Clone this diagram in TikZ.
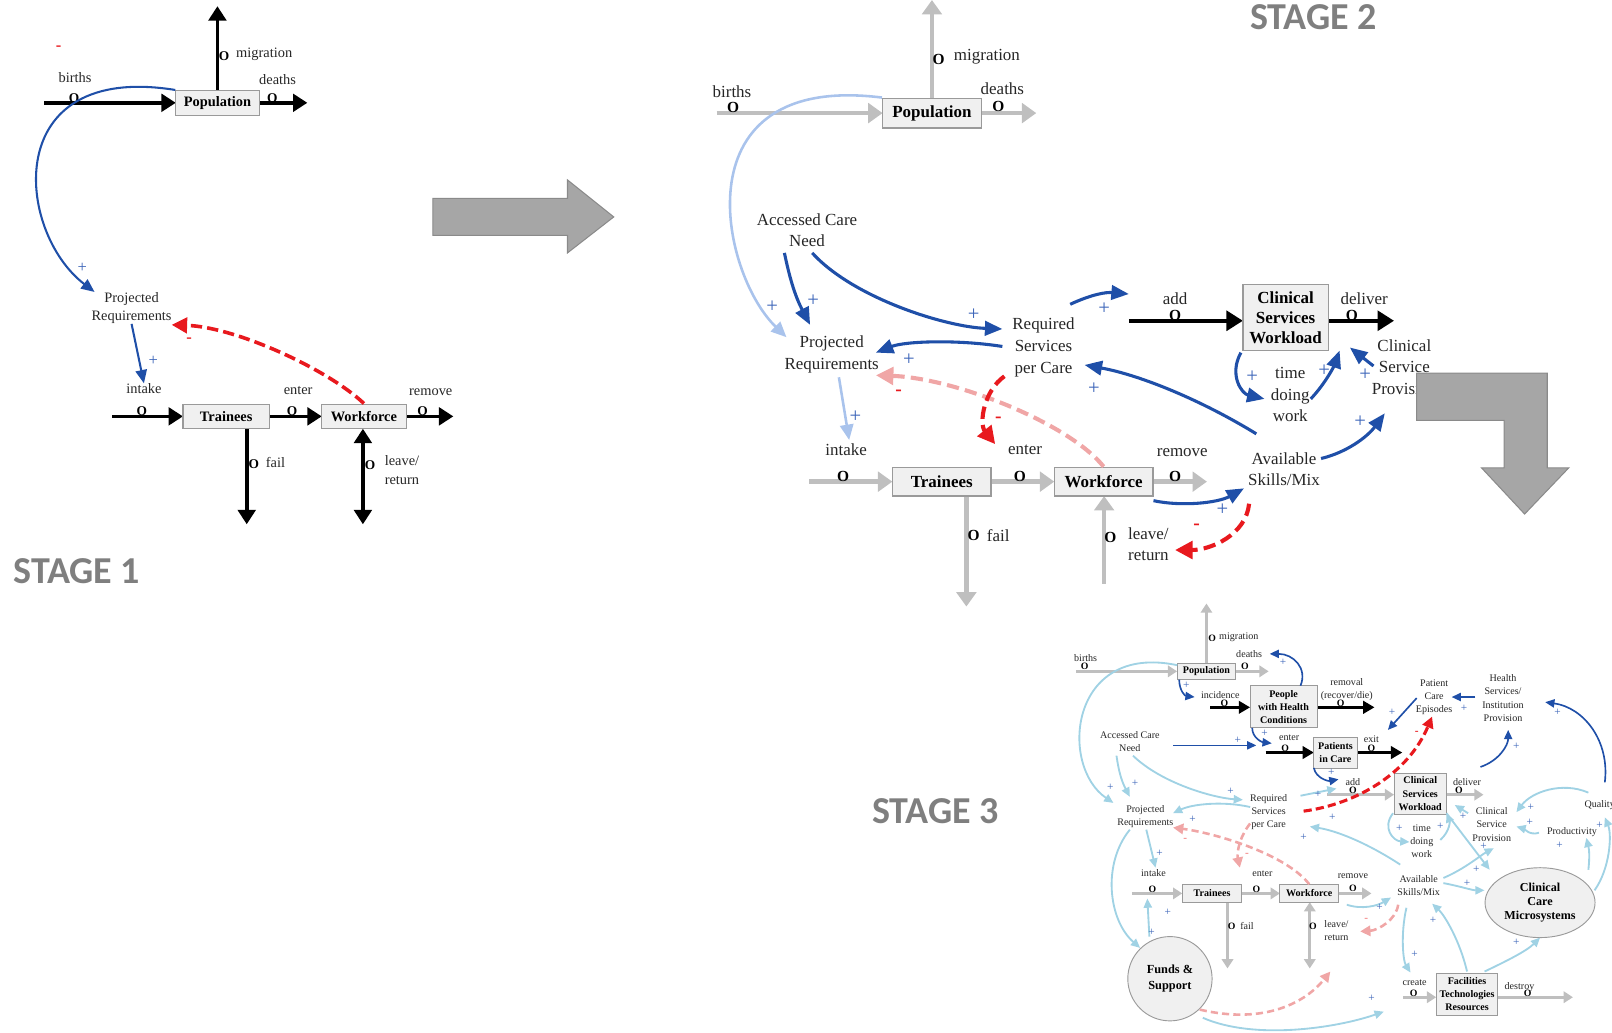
\documentclass[tikz,border=0pt]{standalone}
\usepackage{fontspec}
\setmainfont{Liberation Serif}
\newfontfamily\stagefont{Carlito}
\usetikzlibrary{arrows.meta,shapes.geometric}

\definecolor{flowgray}{HTML}{BFBFBF}
\definecolor{boxfill}{HTML}{F0F0F0}
\definecolor{boxline}{HTML}{9A9A9A}
\definecolor{infblue}{HTML}{1F4FA8}
\definecolor{paleblue}{HTML}{A9C3EC}
\definecolor{cyanblue}{HTML}{A0D2E4}
\definecolor{negred}{HTML}{E8191E}
\definecolor{pinkneg}{HTML}{F0A6A6}
\definecolor{plusblue}{HTML}{3A63B8}
\definecolor{stagegray}{HTML}{7F7F7F}
\definecolor{bigarrow}{HTML}{A6A6A6}
\definecolor{bigarrowline}{HTML}{8A8A8A}

\newcommand\fsA{\fontsize{14}{18}\selectfont}
\newcommand\fsB{\fontsize{16.5}{21}\selectfont}
\newcommand\fsC{\fontsize{9.8}{12.8}\selectfont}

\tikzset{
  lblA/.style={font=\fsA, inner sep=0pt, align=center, text=black!85},
  lblB/.style={font=\fsB, inner sep=0pt, align=center, text=black!85},
  lblC/.style={font=\fsC, inner sep=0pt, align=center, text=black!85},
  valveA/.style={font=\fontsize{13}{13}\selectfont\bfseries, inner sep=0pt},
  valveB/.style={font=\fontsize{15}{15}\selectfont\bfseries, inner sep=0pt},
  valveC/.style={font=\fontsize{9.5}{9.5}\selectfont\bfseries, inner sep=0pt},
  stockA/.style={draw=boxline, fill=boxfill, line width=1pt, font=\fsA\bfseries, inner sep=0pt},
  stockB/.style={draw=boxline, fill=boxfill, line width=1.2pt, font=\fsB\bfseries, inner sep=0pt, align=center},
  stockC/.style={draw=boxline, fill=boxfill, line width=0.9pt, font=\fsC\bfseries, inner sep=0pt, align=center},
  flowA/.style={line width=3.5pt, -{Triangle[length=14pt,width=17pt]}},
  flowAA/.style={line width=3.5pt, {Triangle[length=14pt,width=17pt]}-{Triangle[length=14pt,width=17pt]}},
  flowB/.style={flowgray, line width=4.5pt, -{Triangle[length=14pt,width=19pt]}},
  flowBk/.style={black, line width=4pt, -{Triangle[length=16pt,width=19pt]}},
  flowC/.style={flowgray, line width=2.5pt, -{Triangle[length=9pt,width=11pt]}},
  flowCC/.style={flowgray, line width=2.5pt, {Triangle[length=9pt,width=11pt]}-{Triangle[length=9pt,width=11pt]}},
  flowCk/.style={black, line width=2.8pt, -{Triangle[length=11pt,width=12pt]}},
  linkA/.style={infblue, line width=2pt, -{Triangle[length=13pt,width=11pt]}},
  linkB/.style={infblue, line width=3pt, -{Triangle[length=17pt,width=14pt]}},
  linkBpale/.style={paleblue, line width=2.5pt, -{Triangle[length=15pt,width=13pt]}},
  linkC/.style={infblue, line width=1.6pt, -{Triangle[length=9pt,width=8pt]}},
  linkCpale/.style={cyanblue, line width=1.8pt, -{Triangle[length=9pt,width=8pt]}},
  negA/.style={negred, line width=3.5pt, dash pattern=on 11pt off 5pt, -{Triangle[length=15pt,width=15pt]}},
  negB/.style={negred, line width=4pt, dash pattern=on 12pt off 6pt, -{Triangle[length=17pt,width=17pt]}},
  negBpale/.style={pinkneg, line width=4pt, dash pattern=on 12pt off 6pt, -{Triangle[length=17pt,width=17pt]}},
  negC/.style={negred, line width=3pt, dash pattern=on 8pt off 4pt, -{Triangle[length=11pt,width=11pt]}},
  negCpale/.style={pinkneg, line width=2.5pt, dash pattern=on 7pt off 4pt, -{Triangle[length=10pt,width=10pt]}},
  plusA/.style={plusblue, font=\fontsize{16}{16}\selectfont, inner sep=0pt},
  plusB/.style={plusblue, font=\fontsize{20}{20}\selectfont, inner sep=0pt},
  plusC/.style={plusblue, font=\fontsize{11}{11}\selectfont, inner sep=0pt},
  minusA/.style={negred, font=\fontsize{16}{16}\selectfont\bfseries, inner sep=0pt},
  minusB/.style={negred, font=\fontsize{19}{19}\selectfont\bfseries, inner sep=0pt},
  minusC/.style={negred, font=\fontsize{11}{11}\selectfont\bfseries, inner sep=0pt},
  stagelabel/.style={font=\stagefont\fontsize{37}{38}\selectfont\bfseries, text=stagegray, inner sep=0pt, anchor=west},
  bigarrowshape/.style={fill=bigarrow, draw=bigarrowline, line width=1pt}
}

\begin{document}
\begin{tikzpicture}[x=1pt,y=-1pt]
\path[use as bounding box] (0,0) rectangle (1568,1004);

% ================= STAGE 1 =================
\coordinate (s1births) at (43,100);
\coordinate (s1deaths) at (299,100);
\coordinate (s1mig) at (211.5,6);
\coordinate (s1intake) at (109,405);
\coordinate (s1remove) at (441,405);
\coordinate (s1fail) at (240,510);
\coordinate (s1leave) at (353,510);

\draw[flowA] (s1births) -- (211.5-40.5,100);
\draw[flowA] (211.5+40.5,100) -- (s1deaths);
\draw[flowA] (211.5,88) -- (s1mig);
\draw[flowA] (s1intake) -- (178,405);
\draw[flowA] (262,405) -- (313,405);
\draw[flowA] (395,405) -- (s1remove);
\draw[flowA] (240,417) -- (s1fail);
\draw[flowAA] (s1leave) -- (353,417);

\node[stockA, minimum width=81pt, minimum height=24pt] (pop1) at (211.5,100) {Population};
\node[stockA, minimum width=84pt, minimum height=24pt] (tr1) at (220,405) {Trainees};
\node[stockA, minimum width=82pt, minimum height=24pt] (wf1) at (354,405) {Workforce};

\node[valveA] (o1a) at (72,95) {O};
\node[valveA] (o1b) at (265,95) {O};
\node[valveA] (o1c) at (218,55) {O};
\node[valveA] (o1d) at (138,400) {O};
\node[valveA] (o1e) at (284,400) {O};
\node[valveA] (o1f) at (411,400) {O};
\node[valveA] (o1g) at (247,451) {O};
\node[valveA] (o1h) at (360,452) {O};

\node[lblA] (l1births) at (73,75) {births};
\node[lblA] (l1deaths) at (270,77) {deaths};
\node[lblA] (l1mig) at (257,53) {migration};
\node[lblA] (pr1) at (128,299.5) {Projected\\Requirements};
\node[lblA] (in1) at (140,378) {intake};
\node[lblA] (l1enter) at (290,380) {enter};
\node[lblA] (l1remove) at (419,381) {remove};
\node[lblA] (l1fail) at (268,450) {fail};
\node[lblA] (l1leave) at (391,457) {leave/\\return};

\coordinate (t1loop) at (92,284);
\coordinate (t1neg) at (167,316);
\draw[linkA] (pop1.north west) .. controls (0,60) and (15,225) .. (t1loop);
\draw[linkA] (pr1.south) -- (in1.north);
\draw[negA] (wf1.north) .. controls (320,360) and (230,318) .. (t1neg);

\node[plusA] (p1a) at (80,261) {+};
\node[plusA] (p1b) at (149,351) {+};
\node[minusA] (m1a) at (184,331) {-};
\node[minusA] (m1b) at (57,47) {-};

\node[stagelabel] (st1) at (13,556) {STAGE 1};

% big arrow between stages
\draw[bigarrowshape] (421,193) -- (552,193) -- (552,175) -- (597,211) -- (552,246) -- (552,229) -- (421,229) -- cycle;

% ================= STAGE 2 =================
\node[stagelabel] (st2) at (1216,17) {STAGE 2};

\coordinate (s2births) at (697,110);
\coordinate (s2deaths) at (1008,110);
\coordinate (s2mig) at (906.5,0);
\coordinate (s2intake) at (787,468.5);
\coordinate (s2remove) at (1174,468.5);
\coordinate (s2fail) at (940,590);
\coordinate (s2leave) at (1074,568);
\coordinate (s2add) at (1098,312);
\coordinate (s2deliver) at (1356,312);

\draw[flowB] (s2births) -- (858.5,110);
\draw[flowB] (954.5,110) -- (s2deaths);
\draw[flowB] (906.5,95.5) -- (s2mig);
\draw[flowB] (s2intake) -- (868,468.5);
\draw[flowB] (964,468.5) -- (1025.5,468.5);
\draw[flowB] (1121.5,468.5) -- (s2remove);
\draw[flowB] (940,482.5) -- (s2fail);
\draw[flowB] (s2leave) -- (1074,482.5);
\draw[flowBk] (s2add) -- (1209,312);
\draw[flowBk] (1292,312) -- (s2deliver);

\node[stockB, minimum width=96pt, minimum height=29pt] (pop2) at (906.5,110) {Population};
\node[stockB, minimum width=96pt, minimum height=28pt] (tr2) at (916,468.5) {Trainees};
\node[stockB, minimum width=96pt, minimum height=28pt] (wf2) at (1073.5,468.5) {Workforce};
\node[stockB, minimum width=83pt, minimum height=64pt] (csw2) at (1250.5,309) {Clinical\\[-1.5pt]Services\\[-1.5pt]Workload};

\node[valveB] (o2a) at (713,105) {O};
\node[valveB] (o2b) at (971,104) {O};
\node[valveB] (o2c) at (913,58) {O};
\node[valveB] (o2d) at (820,463) {O};
\node[valveB] (o2e) at (992,463) {O};
\node[valveB] (o2f) at (1143,463) {O};
\node[valveB] (o2g) at (1143,307) {O};
\node[valveB] (o2h) at (1315,307) {O};
\node[valveB] (o2i) at (947,521) {O};
\node[valveB] (o2j) at (1080,523) {O};

\node[lblB] (l2births) at (712,89.5) {births};
\node[lblB] (l2deaths) at (975,86) {deaths};
\node[lblB] (l2mig) at (960,55) {migration};
\node[lblB] (acn2) at (785,224) {Accessed Care\\Need};
\node[lblB] (pr2) at (809,344.5) {Projected\\Requirements};
\node[lblB] (rs2) at (1015,338) {Required\\Services\\per Care};
\node[lblB] (l2add) at (1143,291) {add};
\node[lblB] (l2deliver) at (1327,291) {deliver};
\node[lblB] (tdw2) at (1255,384) {time\\doing\\work};
\node[lblB] (csp2) at (1366,357) {Clinical\\Service\\Provision};
\node[lblB] (asm2) at (1249,456.5) {Available\\Skills/Mix};
\node[lblB] (l2intake) at (823,437) {intake};
\node[lblB] (l2enter) at (997,438) {enter};
\node[lblB] (l2remove) at (1150,440) {remove};
\node[lblB] (l2fail) at (971,521) {fail};
\node[lblB, align=left] (l2leave) at (1117,529.5) {leave/\\return};

% stage 2 causal links
\coordinate (t2loop) at (765,328);
\coordinate (f2acnA) at (763,246);
\coordinate (t2prA) at (788,316);
\coordinate (f2acnB) at (790,246);
\coordinate (t2rsA) at (975,320);
\coordinate (f2rsA) at (975,337);
\coordinate (t2prB) at (852,343);
\coordinate (f2rsB) at (1041,296);
\coordinate (t2add) at (1098,286);
\coordinate (f2cswA) at (1207,343);
\coordinate (t2tdw) at (1230,388);
\coordinate (f2tdw) at (1275,388);
\coordinate (t2cswA) at (1303,341);
\coordinate (f2csp) at (1336,356);
\coordinate (t2cswB) at (1313,338);
\coordinate (f2asmA) at (1222,422);
\coordinate (t2rsB) at (1055,355);
\coordinate (f2asmB) at (1285,446);
\coordinate (t2csp) at (1347,402);
\coordinate (f2wf) at (1122,487);
\coordinate (t2asm) at (1210,475);
\coordinate (f2asmC) at (1215,490);
\coordinate (t2leave) at (1143,535);
\coordinate (f2pr) at (816,367);
\coordinate (t2intake) at (826,428);
\coordinate (t2prC) at (852,365);
\coordinate (f2rsC) at (977,366);
\coordinate (t2enter) at (968,432);

\draw[linkBpale] (pop2.north west) .. controls (660,70) and (700,265) .. (t2loop);
\draw[linkB] (f2acnA) to[bend right=8] (t2prA);
\draw[linkB] (f2acnB) .. controls (830,290) and (920,318) .. (t2rsA);
\draw[linkB] (f2rsA) .. controls (930,330) and (880,332) .. (t2prB);
\draw[linkB] (f2rsB) to[bend left=15] (t2add);
\draw[linkB] (f2cswA) .. controls (1195,365) and (1208,383) .. (t2tdw);
\draw[linkB] (f2tdw) .. controls (1290,372) and (1298,355) .. (t2cswA);
\draw[linkB] (f2csp) -- (t2cswB);
\draw[linkB] (f2asmA) .. controls (1170,390) and (1110,365) .. (t2rsB);
\draw[linkB] (f2asmB) .. controls (1310,440) and (1330,425) .. (t2csp);
\draw[linkB] (f2wf) .. controls (1150,493) and (1185,489) .. (t2asm);
\draw[negB] (f2asmC) .. controls (1212,520) and (1178,535) .. (t2leave);
\draw[linkBpale] (f2pr) -- (t2intake);
\draw[negBpale] (wf2.north) .. controls (1040,412) and (930,368) .. (t2prC);
\draw[negB] (f2rsC) .. controls (957,380) and (952,412) .. (t2enter);

\foreach \p [count=\i] in {(751,298),(791,292),(947,306),(884,350),(1074,300),(1218,366),(1288,361),(1328,364),(1064,378),(1323,410),(1189,496),(832,405)}
  \node[plusB] (p2\i) at \p {+};
\foreach \p [count=\i] in {(874,382),(971,408),(1164,512)}
  \node[minusB] (m2\i) at \p {-};

% L-shaped arrow towards stage 3
\draw[bigarrowshape] (1378,363) -- (1505,363) -- (1505,455) -- (1526,455) -- (1483,500) -- (1441,455) -- (1463,455) -- (1463,409) -- (1378,409) -- cycle;

% ================= STAGE 3 =================
\node[stagelabel] (st3) at (848,789) {STAGE 3};

\coordinate (s3births) at (1047,653);
\coordinate (s3deaths) at (1234,653);
\coordinate (s3mig) at (1173.5,587);
\coordinate (s3inc) at (1177,688);
\coordinate (s3removal) at (1337,688);
\coordinate (s3enterP) at (1231,732);
\coordinate (s3exit) at (1364,732);
\coordinate (s3add) at (1291,773);
\coordinate (s3deliver) at (1443,773);
\coordinate (s3intake) at (1101,869);
\coordinate (s3remove) at (1334,869);
\coordinate (s3fail) at (1194,942);
\coordinate (s3leave) at (1274,942);
\coordinate (s3create) at (1365,970);
\coordinate (s3destroy) at (1530,970);

\draw[flowC] (s3births) -- (1145,653);
\draw[flowC] (1202,653) -- (s3deaths);
\draw[flowC] (1173.5,645) -- (s3mig);
\draw[flowCk] (s3inc) -- (1216,688);
\draw[flowCk] (1281,688) -- (s3removal);
\draw[flowCk] (s3enterP) -- (1278,732);
\draw[flowCk] (1320,732) -- (s3exit);
\draw[flowC] (s3add) -- (1356,773);
\draw[flowC] (1407,773) -- (s3deliver);
\draw[flowC] (s3intake) -- (1150,869);
\draw[flowC] (1208,869) -- (1245,869);
\draw[flowC] (1302,869) -- (s3remove);
\draw[flowC] (1194,877.5) -- (s3fail);
\draw[flowCC] (s3leave) -- (1274,877.5);
\draw[flowC] (s3create) -- (1397,970);
\draw[flowC] (1457,970) -- (s3destroy);

\node[stockC, minimum width=57pt, minimum height=16pt] (pop3) at (1173.5,653) {Population};
\node[stockC, minimum width=65pt, minimum height=41pt] (phc3) at (1248.5,687.5) {People\\with Health\\Conditions};
\node[stockC, minimum width=42pt, minimum height=30pt] (pic3) at (1299,732) {Patients\\in Care};
\node[stockC, minimum width=51pt, minimum height=40pt] (csw3) at (1381.5,772) {Clinical\\Services\\Workload};
\node[stockC, minimum width=58pt, minimum height=17pt] (tr3) at (1179,869) {Trainees};
\node[stockC, minimum width=57pt, minimum height=17pt] (wf3) at (1273.5,869) {Workforce};
\node[stockC, minimum width=60pt, minimum height=41pt] (ftr3) at (1427,967) {Facilities\\Technologies\\Resources};
\node[circle, draw=boxline, fill=boxfill, line width=0.9pt, minimum size=82pt, inner sep=0pt, align=center,
      font=\fontsize{12}{15}\selectfont\bfseries] (funds3) at (1138,952) {Funds \&\\Support};
\node[ellipse, draw=boxline, fill=boxfill, line width=0.9pt, minimum width=107pt, minimum height=68pt, inner sep=0pt, align=center,
      font=\fontsize{11.8}{14}\selectfont\bfseries] (ccm3) at (1498,878) {Clinical\\Care\\Microsystems};

\node[valveC] (o3a) at (1055,648) {O};
\node[valveC] (o3b) at (1211,648) {O};
\node[valveC] (o3c) at (1179,621) {O};
\node[valveC] (o3d) at (1191,684) {O};
\node[valveC] (o3e) at (1304,684) {O};
\node[valveC] (o3f) at (1250,728) {O};
\node[valveC] (o3g) at (1334,728) {O};
\node[valveC] (o3h) at (1316,769) {O};
\node[valveC] (o3i) at (1419,769) {O};
\node[valveC] (o3j) at (1121,865) {O};
\node[valveC] (o3k) at (1222,865) {O};
\node[valveC] (o3l) at (1316,864) {O};
\node[valveC] (o3m) at (1198,901) {O};
\node[valveC] (o3n) at (1277,901) {O};
\node[valveC] (o3o) at (1375,966) {O};
\node[valveC] (o3p) at (1486,966) {O};

\node[lblC] (l3births) at (1056,640) {births};
\node[lblC] (l3deaths) at (1215,636) {deaths};
\node[lblC] (l3mig) at (1205,620) {migration};
\node[lblC] (l3inc) at (1187,676) {incidence};
\node[lblC] (l3removal) at (1310,670.5) {removal\\(recover/die)};
\node[lblC] (l3enterP) at (1254,718) {enter};
\node[lblC] (l3exit) at (1334,719) {exit};
\node[lblC] (l3add) at (1316,761) {add};
\node[lblC] (l3deliver) at (1427,761) {deliver};
\node[lblC] (pce3) at (1395,678) {Patient\\Care\\Episodes};
\node[lblC, font=\fontsize{9.8}{12.7}\selectfont] (hsip3) at (1462,679) {Health\\Services/\\Institution\\Provision};
\node[lblC] (acn3) at (1099,721.5) {Accessed Care\\Need};
\node[lblC] (rs3) at (1234,790) {Required\\Services\\per Care};
\node[lblC] (pr3) at (1114,794) {Projected\\Requirements};
\node[lblC] (tdw3) at (1383,818) {time\\doing\\work};
\node[lblC] (csp3) at (1451,802) {Clinical\\Service\\Provision};
\node[lblC] (prod3) at (1529,809) {Productivity};
\node[lblC] (qual3) at (1556,783) {Quality};
\node[lblC] (asm3) at (1380,861.5) {Available\\Skills/Mix};
\node[lblC] (l3intake) at (1122,849) {intake};
\node[lblC] (l3enter) at (1228,850) {enter};
\node[lblC] (l3remove) at (1316,852) {remove};
\node[lblC] (l3fail) at (1213,901) {fail};
\node[lblC, align=left] (l3leave) at (1300,905.5) {leave/\\return};
\node[lblC] (l3create) at (1376,956) {create};
\node[lblC] (l3destroy) at (1478,960) {destroy};

% stage 3 dark blue links
\coordinate (t3inc) at (1162,678);
\coordinate (f3phcA) at (1265,667);
\coordinate (t3deaths) at (1235,636);
\coordinate (f3acnA) at (1141,725);
\coordinate (t3enterA) at (1222,725);
\coordinate (f3phcB) at (1218,708);
\coordinate (t3enterB) at (1237,723);
\coordinate (f3pic) at (1278,747);
\coordinate (t3add) at (1302,758);
\coordinate (f3pce) at (1378,679);
\coordinate (t3pic) at (1350,710);
\coordinate (f3hsip) at (1435,678);
\coordinate (t3pce) at (1412,678);
\coordinate (f3csw) at (1440,746);
\coordinate (t3hsipA) at (1467,710);
\coordinate (f3qualA) at (1561,761);
\coordinate (t3hsipB) at (1503,683);

\draw[linkC] (1147,661) .. controls (1147,672) and (1153,677) .. (t3inc);
\draw[linkC] (f3phcA) .. controls (1272,650) and (1258,636) .. (t3deaths);
\draw[linkC] (f3acnA) -- (t3enterA);
\draw[linkC] (f3phcB) .. controls (1218,718) and (1228,722) .. (t3enterB);
\draw[linkC] (f3pic) .. controls (1280,757) and (1292,760) .. (t3add);
\draw[linkC] (f3pce) -- (t3pic);
\draw[linkC] (f3hsip) -- (t3pce);
\draw[linkC] (f3csw) .. controls (1458,740) and (1467,725) .. (t3hsipA);
\draw[linkC] (f3qualA) .. controls (1566,720) and (1540,688) .. (t3hsipB);

% stage 3 light links
\coordinate (f3pop) at (1145,647);
\coordinate (t3prA) at (1083,781);
\coordinate (f3acnB) at (1086,735);
\coordinate (t3prB) at (1099,775);
\coordinate (f3acnC) at (1102,735);
\coordinate (t3rsA) at (1209,778);
\coordinate (f3rsA) at (1265,774);
\coordinate (t3addB) at (1300,767);
\coordinate (f3rsB) at (1216,785);
\coordinate (t3prC) at (1141,791);
\coordinate (f3asmA) at (1362,841);
\coordinate (t3rsB) at (1274,804);
\coordinate (f3prA) at (1115,807);
\coordinate (t3intake) at (1124,844);
\coordinate (f3prB) at (1099,807);
\coordinate (t3funds) at (1109,922);
\coordinate (f3funds) at (1118,911);
\coordinate (t3intakeB) at (1116,874);
\coordinate (f3fundsB) at (1170,990);
\coordinate (t3create) at (1346,984);
\coordinate (f3wf) at (1310,880);
\coordinate (t3asm) at (1353,873);
\coordinate (f3cswA) at (1355,791);
\coordinate (t3tdw) at (1371,819);
\coordinate (f3tdw) at (1401,817);
\coordinate (t3cswA) at (1407,791);
\coordinate (f3csp) at (1428,791);
\coordinate (t3cswB) at (1415,783);
\coordinate (f3cswB) at (1407,791);
\coordinate (t3ccmA) at (1449,846);
\coordinate (f3asmB) at (1404,854);
\coordinate (t3csp) at (1453,825);
\coordinate (f3asmC) at (1404,859);
\coordinate (t3ccmB) at (1444,866);
\coordinate (f3ccmA) at (1545,846);
\coordinate (t3prod) at (1543,815);
\coordinate (f3prod) at (1497,810);
\coordinate (t3cspB) at (1475,804);
\coordinate (f3qual) at (1545,771);
\coordinate (t3cspC) at (1475,790);
\coordinate (f3ccmB) at (1551,866);
\coordinate (t3qual) at (1561,795);
\coordinate (f3asmD) at (1368,883);
\coordinate (t3createB) at (1372,946);
\coordinate (f3ftrA) at (1427,945);
\coordinate (t3asmB) at (1393,879);
\coordinate (f3ftrB) at (1444,945);
\coordinate (t3ccmC) at (1498,912);

\draw[linkCpale] (f3pop) .. controls (1040,625) and (1030,745) .. (t3prA);
\draw[linkCpale] (f3acnB) to[bend right=10] (t3prB);
\draw[linkCpale] (f3acnC) .. controls (1130,762) and (1180,776) .. (t3rsA);
\draw[linkCpale] (f3rsA) -- (t3addB);
\draw[linkCpale] (f3rsB) .. controls (1190,779) and (1160,782) .. (t3prC);
\draw[linkCpale] (f3asmA) .. controls (1330,820) and (1300,808) .. (t3rsB);
\draw[linkCpale] (f3prA) -- (t3intake);
\draw[linkCpale] (f3prB) .. controls (1072,840) and (1078,895) .. (t3funds);
\draw[linkCpale] (f3funds) -- (t3intakeB);
\draw[linkCpale] (f3fundsB) .. controls (1220,1012) and (1300,1000) .. (t3create);
\draw[linkCpale] (f3wf) .. controls (1325,885) and (1340,881) .. (t3asm);
\draw[linkCpale] (f3cswA) .. controls (1344,805) and (1355,818) .. (t3tdw);
\draw[linkCpale] (f3tdw) .. controls (1411,808) and (1410,798) .. (t3cswA);
\draw[linkCpale] (f3csp) -- (t3cswB);
\draw[linkCpale] (f3cswB) -- (t3ccmA);
\draw[linkCpale] (f3asmB) .. controls (1425,845) and (1440,832) .. (t3csp);
\draw[linkCpale] (f3asmC) .. controls (1420,862) and (1432,866) .. (t3ccmB);
\draw[linkCpale] (f3ccmA) to[bend right=10] (t3prod);
\draw[linkCpale] (f3prod) .. controls (1488,813) and (1482,806) .. (t3cspB);
\draw[linkCpale] (f3qual) .. controls (1520,760) and (1490,770) .. (t3cspC);
\draw[linkCpale] (f3ccmB) .. controls (1566,845) and (1568,812) .. (t3qual);
\draw[linkCpale] (f3asmD) .. controls (1362,910) and (1365,935) .. (t3createB);
\draw[linkCpale] (f3ftrA) .. controls (1420,915) and (1405,890) .. (t3asmB);
\draw[linkCpale] (f3ftrB) .. controls (1465,935) and (1485,925) .. (t3ccmC);

% stage 3 negative links
\coordinate (f3rsC) at (1268,789);
\coordinate (t3pceB) at (1393,697);
\coordinate (t3prD) at (1141,805);
\coordinate (f3rsD) at (1216,801);
\coordinate (t3enterC) at (1206,844);
\coordinate (f3asmE) at (1360,880);
\coordinate (t3leave) at (1323,906);
\coordinate (f3fundsC) at (1167,982);
\coordinate (t3leaveB) at (1294,945);

\draw[negCpale] (wf3.north) .. controls (1250,830) and (1180,810) .. (t3prD);
\draw[negCpale] (f3rsD) .. controls (1205,815) and (1203,830) .. (t3enterC);
\draw[negCpale] (f3asmE) .. controls (1358,895) and (1340,905) .. (t3leave);
\draw[negCpale] (f3fundsC) .. controls (1230,997) and (1270,975) .. (t3leaveB);
\draw[negC] (f3rsC) .. controls (1320,782) and (1370,752) .. (t3pceB);

\foreach \p [count=\i] in {(1154,667),(1248,644),(1204,720),(1230,713),(1295,751),(1354,693),(1424,689),(1475,726),(1515,693),
  (1080,766),(1104,762),(1197,770),(1282,773),(1160,797),(1296,795),(1268,814),(1128,830),(1120,907),(1136,887),(1334,971),
  (1342,883),(1361,806),(1401,804),(1423,794),(1443,823),(1436,846),(1427,859),(1517,822),(1488,800),(1489,785),(1556,803),
  (1376,928),(1394,895),(1475,917)}
  \node[plusC] (p3\i) at \p {+};
\node[minusC] (m3a) at (1378,713) {-};
\node[minusC, text=pinkneg!80!red] (m3b) at (1153,817) {-};
\node[minusC, text=pinkneg!80!red] (m3c) at (1213,832) {-};
\node[minusC, text=pinkneg!80!red] (m3d) at (1329,895) {-};

\end{tikzpicture}
\end{document}
